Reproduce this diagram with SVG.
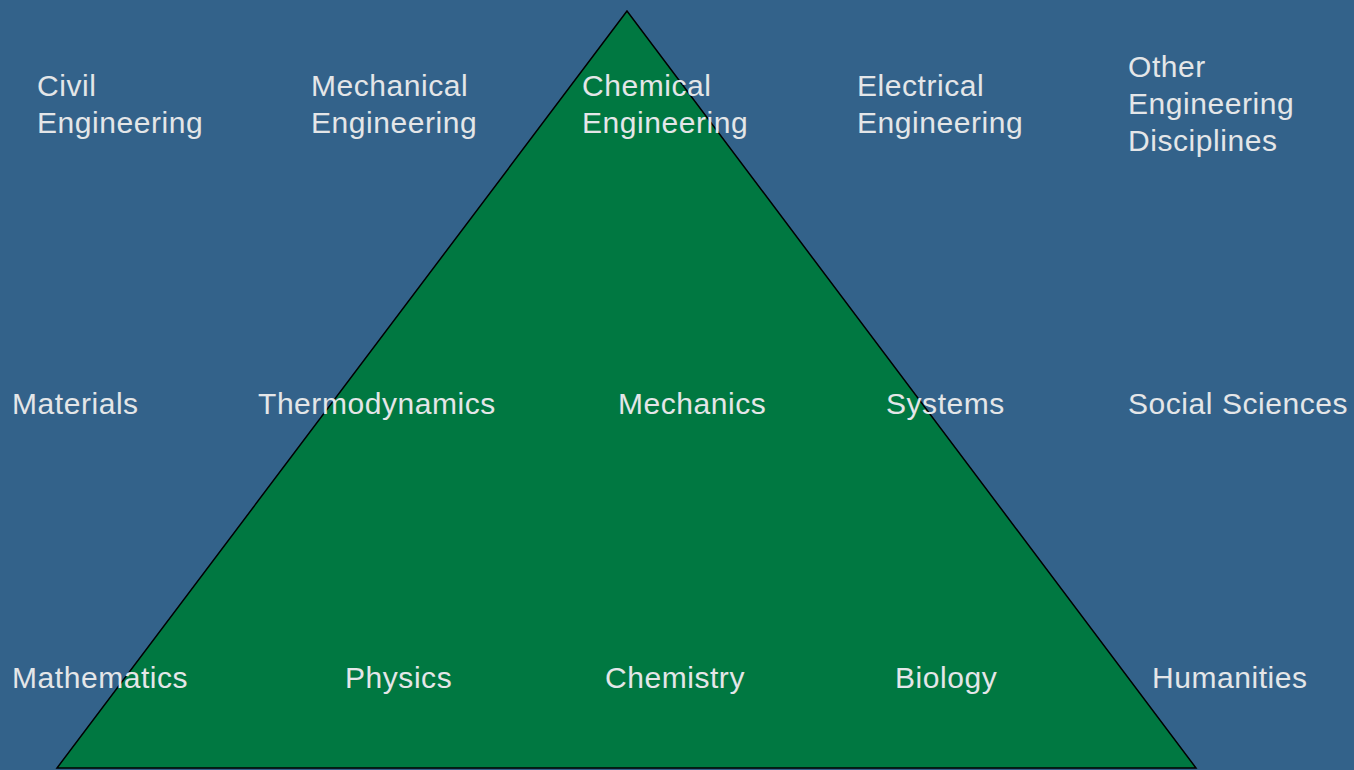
<svg xmlns="http://www.w3.org/2000/svg" width="1354" height="770" viewBox="0 0 1354 770">
<style>
.t{font-family:"Liberation Sans",Arial,sans-serif;font-size:30px;fill:#e4e6e8;letter-spacing:0.55px}
</style>
<rect width="1354" height="770" fill="#33628a"/>
<g id="pyramid"><polygon points="627,11 57,768 1196,768" fill="#007841" stroke="#000" stroke-width="1.5"/></g>
<g id="connectors"></g>
<g id="civil"><text class="t" x="37" y="96">Civil</text><text class="t" x="37" y="133">Engineering</text></g>
<g id="mechanical"><text class="t" x="311" y="96">Mechanical</text><text class="t" x="311" y="133">Engineering</text></g>
<g id="chemical"><text class="t" x="582" y="96">Chemical</text><text class="t" x="582" y="133">Engineering</text></g>
<g id="electrical"><text class="t" x="857" y="96">Electrical</text><text class="t" x="857" y="133">Engineering</text></g>
<g id="other"><text class="t" x="1128" y="77">Other</text><text class="t" x="1128" y="114">Engineering</text><text class="t" x="1128" y="151">Disciplines</text></g>
<g id="materials"><text class="t" x="12" y="414">Materials</text></g>
<g id="thermodynamics"><text class="t" x="258" y="414">Thermodynamics</text></g>
<g id="mechanics"><text class="t" x="618" y="414">Mechanics</text></g>
<g id="systems"><text class="t" x="886" y="414">Systems</text></g>
<g id="social"><text class="t" x="1128" y="414">Social Sciences</text></g>
<g id="mathematics"><text class="t" x="12" y="688">Mathematics</text></g>
<g id="physics"><text class="t" x="345" y="688">Physics</text></g>
<g id="chemistry"><text class="t" x="605" y="688">Chemistry</text></g>
<g id="biology"><text class="t" x="895" y="688">Biology</text></g>
<g id="humanities"><text class="t" x="1152" y="688">Humanities</text></g>
</svg>
